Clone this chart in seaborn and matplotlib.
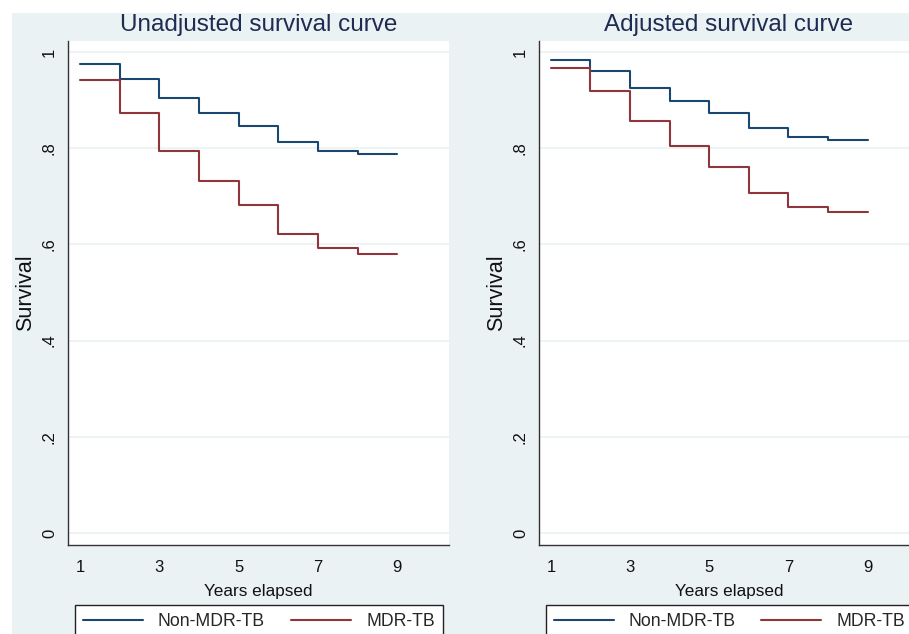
import pandas as pd
import matplotlib.pyplot as plt
import seaborn as sns
from matplotlib.patches import Rectangle

# Dados (sobrevivência por ano, último valor repetido até o fim)
anos = [1, 2, 3, 4, 5, 6, 7, 8, 9]
grupos = ["Non-MDR-TB", "MDR-TB"]

nao_ajustada_non_mdr = [0.975, 0.944, 0.904, 0.873, 0.846, 0.812, 0.794, 0.788, 0.788]
nao_ajustada_mdr = [0.941, 0.873, 0.794, 0.732, 0.682, 0.622, 0.592, 0.581, 0.581]
ajustada_non_mdr = [0.983, 0.960, 0.926, 0.898, 0.873, 0.842, 0.824, 0.817, 0.817]
ajustada_mdr = [0.967, 0.920, 0.857, 0.805, 0.762, 0.707, 0.678, 0.667, 0.667]

titulos = ["Unadjusted survival curve", "Adjusted survival curve"]
yticks = [0, 0.2, 0.4, 0.6, 0.8, 1]
ytick_labels = ["0", ".2", ".4", ".6", ".8", "1"]
xticks = [1, 3, 5, 7, 9]

cores = {"Non-MDR-TB": "#1A476F", "MDR-TB": "#90353B"}
fundo = "#EAF2F3"
cor_titulo = "#1E2B52"


def montar_df(non_mdr, mdr):
    return pd.DataFrame({
        "Ano": anos + anos,
        "Survival": non_mdr + mdr,
        "Grupo": [grupos[0]] * len(anos) + [grupos[1]] * len(anos),
    })


dados = [montar_df(nao_ajustada_non_mdr, nao_ajustada_mdr),
         montar_df(ajustada_non_mdr, ajustada_mdr)]

sns.set_style("white")
plt.rcParams["font.family"] = ["Liberation Sans", "DejaVu Sans"]

W, H = 909, 634
fig = plt.figure(figsize=(W / 100, H / 100), dpi=100)
fig.patch.set_facecolor("white")
fig.add_artist(Rectangle((12 / W, 0), 1, (H - 13) / H, transform=fig.transFigure,
                         facecolor=fundo, edgecolor="none", zorder=-10))

# posições em pixels: (esquerda, topo, direita, base)
posicoes = [(68, 41, 449, 545), (539, 41, 919, 545)]

for df, titulo, (l, t, r, b) in zip(dados, titulos, posicoes):
    ax = fig.add_axes([l / W, 1 - b / H, (r - l) / W, (b - t) / H])
    ax.set_facecolor("white")
    for y in yticks:
        ax.axhline(y, color=fundo, lw=1.2, zorder=0)
    sns.lineplot(data=df, x="Ano", y="Survival", hue="Grupo", hue_order=grupos,
                 palette=cores, drawstyle="steps-post", linewidth=1.5, ax=ax)
    ax.set_xlim(0.7, 10.3)
    ax.set_ylim(-0.025, 1.023)
    ax.set_xticks(xticks)
    ax.set_xticklabels([str(x) for x in xticks])
    ax.set_yticks(yticks)
    ax.set_yticklabels(ytick_labels)
    ax.tick_params(axis="both", direction="out", length=5, width=1, color="#555555",
                   labelsize=12, labelcolor="#111111", pad=6)
    ax.tick_params(axis="y", labelrotation=90, pad=3)
    for lab in ax.get_yticklabels():
        lab.set_va("center")
    for lado in ["top", "right"]:
        ax.spines[lado].set_visible(False)
    for lado in ["left", "bottom"]:
        ax.spines[lado].set_color("#333333")
        ax.spines[lado].set_linewidth(1)
    ax.set_title(titulo, fontsize=17.5, color=cor_titulo, pad=7)
    ax.set_xlabel("Years elapsed", fontsize=12.3, color="#111111", labelpad=6)
    ax.set_ylabel("Survival", fontsize=15.5, color="#111111", labelpad=4)

    handles, labels = ax.get_legend_handles_labels()
    ax.legend(handles, labels, loc="upper left", bbox_to_anchor=(0.018, -0.119, 0.966, 0),
              mode="expand", ncol=2, borderaxespad=0, frameon=True, fancybox=False,
              edgecolor="#222222", framealpha=1, fontsize=12.7, handlelength=3.4,
              handletextpad=0.85, borderpad=0.45)
    ax.get_legend().get_frame().set_linewidth(1)

plt.savefig("out.png", dpi=100, facecolor=fig.get_facecolor())
plt.close()
